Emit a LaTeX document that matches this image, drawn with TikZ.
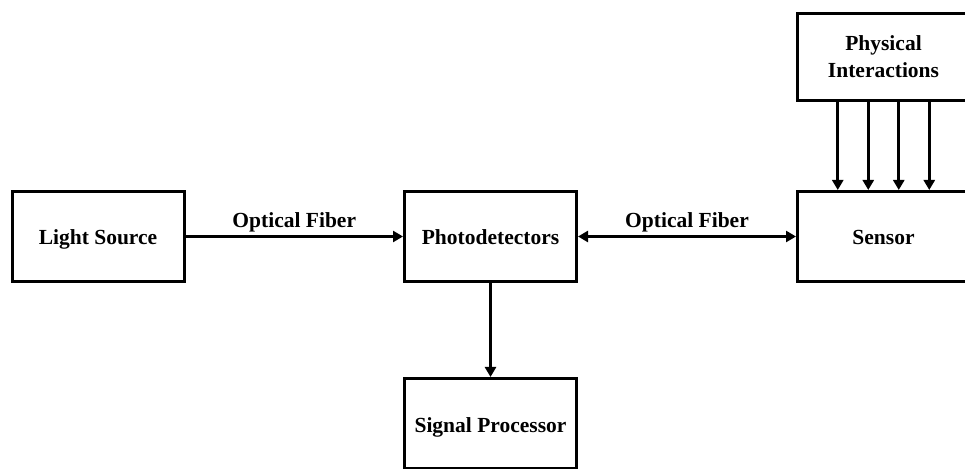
\documentclass[tikz,border=0pt]{standalone}
\usepackage{fontspec}
\setmainfont{Liberation Serif}
\usetikzlibrary{arrows.meta,positioning}
\begin{document}
\begin{tikzpicture}[x=1pt,y=1pt,font=\fontsize{21.5}{27}\selectfont\bfseries,block/.style={draw,line width=3pt,align=center,minimum width=172pt,minimum height=90pt,inner sep=4pt,text height=17pt,text depth=0pt},arr/.style={-{Triangle[length=10pt,width=11pt]},line width=3pt},darr/.style={{Triangle[length=10pt,width=11pt]}-{Triangle[length=10pt,width=11pt]},line width=3pt}]
\useasboundingbox (0,0) rectangle (965,468);
\node[block] (light) at (98,231.5){Light Source};
\node[block] (photo) at (490.5,231.5){Photodetectors};
\node[block] (sensor) at (883.5,231.5){Sensor};
\node[block,minimum height=87pt,text height=,text depth=] (phys) at (883.5,411){Physical\\Interactions};
\node[block] (signal) at (490.5,44.5){Signal Processor};
\draw[arr] (light) -- node[midway,above,inner sep=3pt]{Optical Fiber} (photo);\draw[darr] (photo) -- node[midway,above,inner sep=3pt]{Optical Fiber} (sensor);\draw[arr] (photo) -- (signal);
\foreach \dx in {-45.75,-15.25,15.25,45.75}
  \draw[arr] ([xshift=\dx pt]phys.south) -- ([xshift=\dx pt]sensor.north);
\end{tikzpicture}
\end{document}
